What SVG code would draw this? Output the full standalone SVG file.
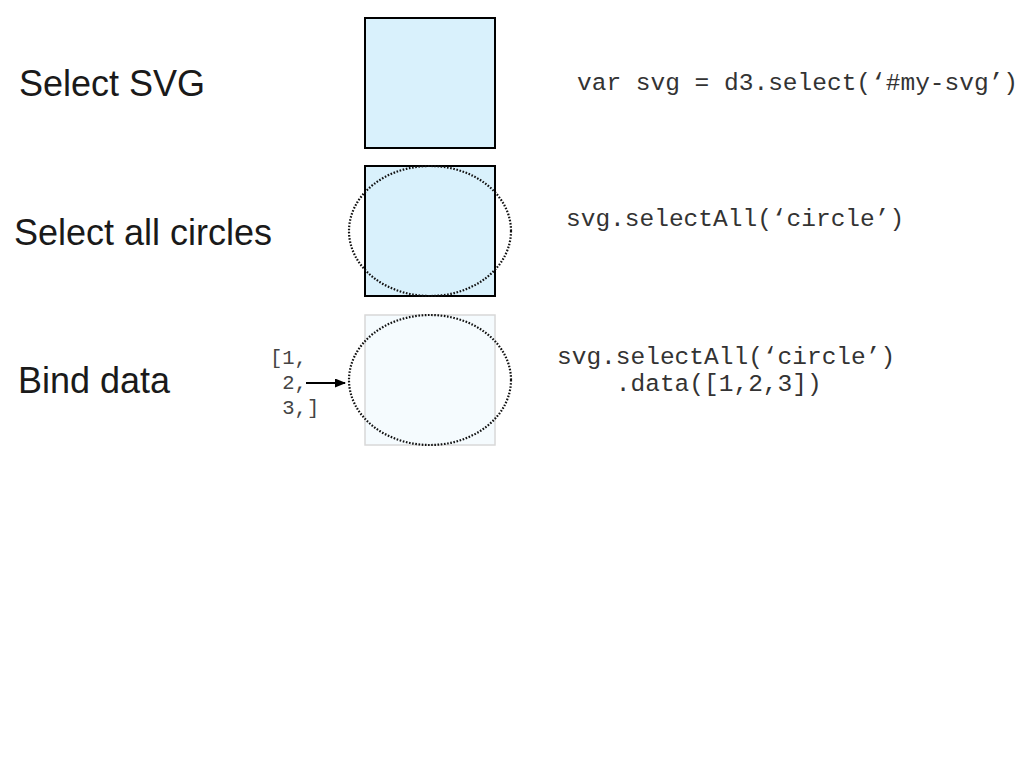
<svg xmlns="http://www.w3.org/2000/svg" width="1024" height="768" viewBox="0 0 1024 768">
<style>
.label{font-family:"Liberation Sans",Arial,sans-serif;font-size:36px;fill:#1a1a1a;}
.code{font-family:"Liberation Mono","Courier New",monospace;font-size:24.5px;fill:#333;white-space:pre;}
.arr{font-family:"Liberation Mono","Courier New",monospace;font-size:20.5px;fill:#444;white-space:pre;}
.box{fill:#d9f1fc;stroke:#000;stroke-width:2;}
.ghost{fill:#f5fbfe;stroke:#d8d8d8;stroke-width:1.5;}
.dots{fill:none;stroke:#111;stroke-width:2.2;stroke-dasharray:1.6 1.6;}
</style>
<defs>
<marker id="ah" markerWidth="11" markerHeight="9" refX="10" refY="4.5" orient="auto" markerUnits="userSpaceOnUse">
<path d="M0,0 L11,4.5 L0,9 Z" fill="#000"/>
</marker>
</defs>
<rect width="1024" height="768" fill="#fff"/>
<g id="step1">
<text class="label" x="19" y="96">Select SVG</text>
<rect class="box" x="365" y="18" width="130" height="130"/>
<text class="code" x="577" y="90">var svg = d3.select(‘#my-svg’)</text>
</g>
<g id="step2">
<text class="label" x="14" y="245">Select all circles</text>
<rect class="box" x="365" y="166" width="130" height="130"/>
<ellipse class="dots" cx="430" cy="231" rx="81" ry="65"/>
<text class="code" x="566" y="226">svg.selectAll(‘circle’)</text>
</g>
<g id="step3">
<text class="label" x="18" y="393">Bind data</text>
<rect class="ghost" x="365" y="315" width="130" height="130"/>
<ellipse class="dots" cx="430" cy="380" rx="81" ry="65"/>
<text class="arr" x="270" y="364">[1,</text>
<text class="arr" x="270" y="389"> 2,</text>
<text class="arr" x="270" y="414"> 3,]</text>
<text class="code" x="557" y="364">svg.selectAll(‘circle’)</text>
<text class="code" x="557" y="391">    .data([1,2,3])</text>
</g>
<g id="connectors">
<line x1="306" y1="383" x2="345" y2="383" stroke="#000" stroke-width="2" marker-end="url(#ah)"/>
</g>
</svg>
